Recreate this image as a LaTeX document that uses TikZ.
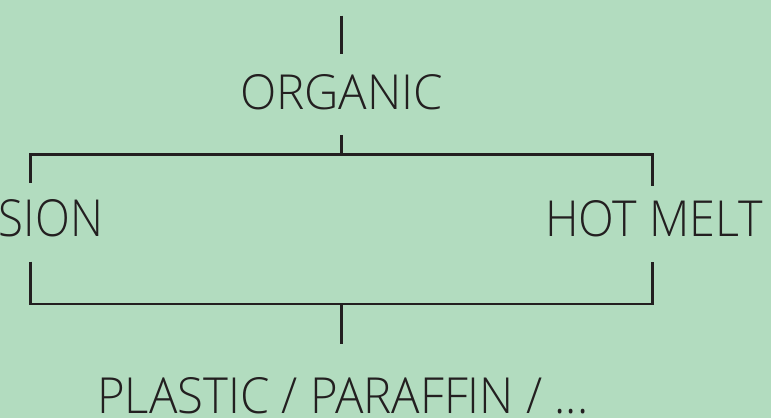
\documentclass[tikz,border=0pt]{standalone}
\usepackage{fontspec}
\usepackage{graphicx}
\setmainfont{Open Sans}[UprightFont=* Light]
\definecolor{bgmint}{HTML}{B2DCBF}
\definecolor{ink}{HTML}{231F20}
\begin{document}
\begin{tikzpicture}[x=1pt,y=1pt,
  wire/.style={draw=ink,line width=2.6pt},
  label/.style={inner sep=0pt,outer sep=0pt,text=ink}]
  % canvas
  \fill[bgmint] (0,0) rectangle (771,418);
  \useasboundingbox (0,0) rectangle (771,418);

  % labels, each fitted to its printed extent
  \node[label,anchor=base] (organic) at (341.7,308) {\resizebox{203pt}{35pt}{ORGANIC}};
  \node[label,anchor=base west] (sion) at (-1,181) {\resizebox{104pt}{37pt}{SION}};
  \node[label,anchor=base west] (hotmelt) at (545,181) {\resizebox{218pt}{36pt}{HOT MELT}};
  \node[label,anchor=base] (plastic) at (342.8,4) {\resizebox{491pt}{36pt}{PLASTIC / PARAFFIN / ...}};

  % connector end points
  \coordinate (topA) at (341.7,402.3);
  \coordinate (topB) at (341.7,364);
  \coordinate (midA) at (341.7,283);
  \coordinate (split) at (341.7,263.7);
  \coordinate (lt) at (30.3,263.7);
  \coordinate (rt) at (652.7,263.7);
  \coordinate (lA) at (30.3,235);
  \coordinate (rA) at (652.7,232.3);
  \coordinate (lB) at (30.3,156.3);
  \coordinate (rB) at (652.7,156.3);
  \coordinate (lb) at (30.3,114);
  \coordinate (rb) at (652.7,114);
  \coordinate (merge) at (341.7,114);
  \coordinate (botA) at (341.7,74);

  % stubs and brackets
  \draw[wire] (topA) -- (topB);
  \draw[wire] (midA) -- (split);
  \draw[wire] (lA) -- (lt) -- (rt) -- (rA);
  \draw[wire] (lB) -- (lb) -- (rb) -- (rB);
  \draw[wire] (merge) -- (botA);
\end{tikzpicture}
\end{document}
